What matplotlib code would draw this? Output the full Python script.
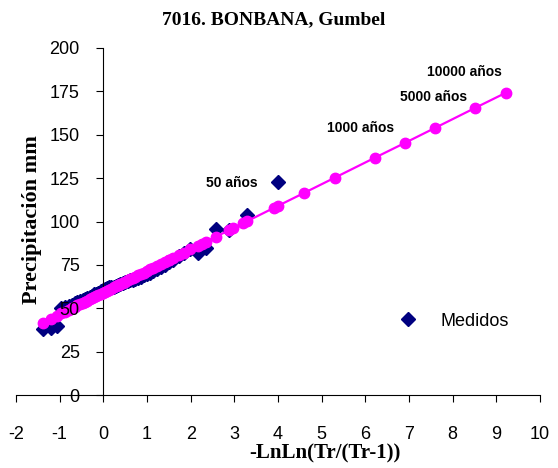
import matplotlib
matplotlib.use("Agg")
import matplotlib.pyplot as plt

# measured annual maxima (reduced variate, precipitation mm)
medidos_x = [-1.388, -1.198, -1.068, -0.964, -0.875, -0.796, -0.723, -0.656, -0.593, -0.533,
             -0.476, -0.420, -0.366, -0.314, -0.262, -0.211, -0.160, -0.111, -0.061, -0.012,
             0.038, 0.087, 0.137, 0.187, 0.238, 0.289, 0.340, 0.393, 0.446, 0.501,
             0.556, 0.613, 0.672, 0.732, 0.794, 0.858, 0.925, 0.995, 1.068, 1.144,
             1.225, 1.311, 1.402, 1.500, 1.606, 1.722, 1.850, 1.994, 2.158, 2.351,
             2.584, 2.881, 3.296, 3.998]
medidos_y = [38, 38.5, 40, 50, 51, 51.5, 52, 53, 53.5, 54,
             55, 55.5, 56, 56.5, 57, 58, 58.5, 59, 60, 60.5,
             61, 61.5, 62, 62, 62.5, 63, 63.5, 64, 64.5, 65,
             65.5, 66, 66.5, 67, 67.5, 68, 69, 70, 70.5, 71.5,
             72.5, 74, 75, 76.5, 78, 80, 82, 84, 82, 84.5,
             95.5, 95, 104, 123]

# Gumbel fitted values
gumbel_x = [-1.388, -1.198, -1.068, -0.964, -0.875, -0.796, -0.723, -0.656, -0.593, -0.533,
            -0.476, -0.420, -0.366, -0.314, -0.262, -0.211, -0.160, -0.111, -0.061, -0.012,
            0.038, 0.087, 0.137, 0.187, 0.238, 0.289, 0.340, 0.367, 0.393, 0.446,
            0.501, 0.556, 0.613, 0.672, 0.732, 0.794, 0.858, 0.925, 0.995, 1.068,
            1.144, 1.225, 1.311, 1.402, 1.500, 1.500, 1.606, 1.722, 1.850, 1.994,
            2.158, 2.250, 2.351, 2.584, 2.881, 2.970, 3.199, 3.296, 3.902, 3.998,
            4.600, 5.296, 6.214, 6.907, 7.601, 8.517, 9.210]
gumbel_y = [41.7, 44.0, 45.7, 47.0, 48.1, 49.1, 50.0, 50.8, 51.6, 52.3,
            53.1, 53.8, 54.4, 55.1, 55.7, 56.4, 57.0, 57.6, 58.2, 58.9,
            59.5, 60.1, 60.7, 61.3, 62.0, 62.6, 63.3, 63.6, 63.9, 64.6,
            65.3, 66.0, 66.7, 67.4, 68.2, 68.9, 69.7, 70.6, 71.4, 72.4,
            73.3, 74.3, 75.4, 76.5, 77.8, 77.8, 79.1, 80.5, 82.1, 83.9,
            86.0, 87.1, 88.4, 91.3, 95.0, 96.1, 99.0, 100.2, 107.8, 109.0,
            116.5, 125.2, 136.7, 145.3, 154.0, 165.5, 174.1]

# return period labels
etiquetas = ["50 años", "1000 años", "5000 años", "10000 años"]
etiq_x = [2.95, 5.88, 7.57, 8.27]
etiq_y = [122, 154, 172, 186]

xticks = list(range(-2, 11))
yticks = [0, 25, 50, 75, 100, 125, 150, 175, 200]

plt.rcParams['font.family'] = ['Liberation Sans', 'DejaVu Sans']
plt.rcParams['axes.unicode_minus'] = False

fig = plt.figure(figsize=(5.58, 4.68), dpi=100)
ax = fig.add_axes([16 / 558, 73 / 468, 524 / 558, 347 / 468])

ax.plot(medidos_x, medidos_y, linestyle="none", marker="D", markersize=7,
        color="#000080", label="Medidos", zorder=2)
ax.plot(gumbel_x, gumbel_y, color="#FF00FF", linewidth=1.6, marker="o",
        markersize=7.5, zorder=3)

for t, x, y in zip(etiquetas, etiq_x, etiq_y):
  ax.text(x, y, t, ha="center", va="center", fontsize=10, fontweight="bold",
          family=['Liberation Sans Narrow', 'Liberation Sans', 'DejaVu Sans'])

ax.set_xlim(-2, 10)
ax.set_ylim(0, 200)
ax.set_xticks(xticks)
ax.set_yticks(yticks)
ax.tick_params(axis="x", direction="out", length=5, pad=17, labelsize=13)
ax.tick_params(axis="y", direction="out", length=5, pad=12, labelsize=13)
ax.yaxis.set_zorder(5)  # y labels drawn over the markers, like the original

ax.spines["left"].set_position(("data", 0))
ax.spines["top"].set_visible(False)
ax.spines["right"].set_visible(False)

ax.legend(loc="center left", bbox_to_anchor=(0.731, 0.213), frameon=False,
          fontsize=13, handlelength=1.0, handletextpad=1.28, borderpad=0,
          borderaxespad=0, numpoints=1)

serif = ['Liberation Serif', 'DejaVu Serif']
fig.text(274 / 558, 1 - 20 / 468, "7016. BONBANA, Gumbel", ha="center",
         va="center", fontsize=14, fontweight="bold", family=serif)
fig.text(32 / 558, 1 - 220 / 468, "Precipitación mm", ha="center",
         va="center", rotation=90, fontsize=16, fontweight="bold", family=serif)
fig.text(325 / 558, 1 - 453 / 468, "-LnLn(Tr/(Tr-1))", ha="center",
         va="center", fontsize=15, fontweight="bold", family=serif)

fig.savefig("out.png", dpi=100)
